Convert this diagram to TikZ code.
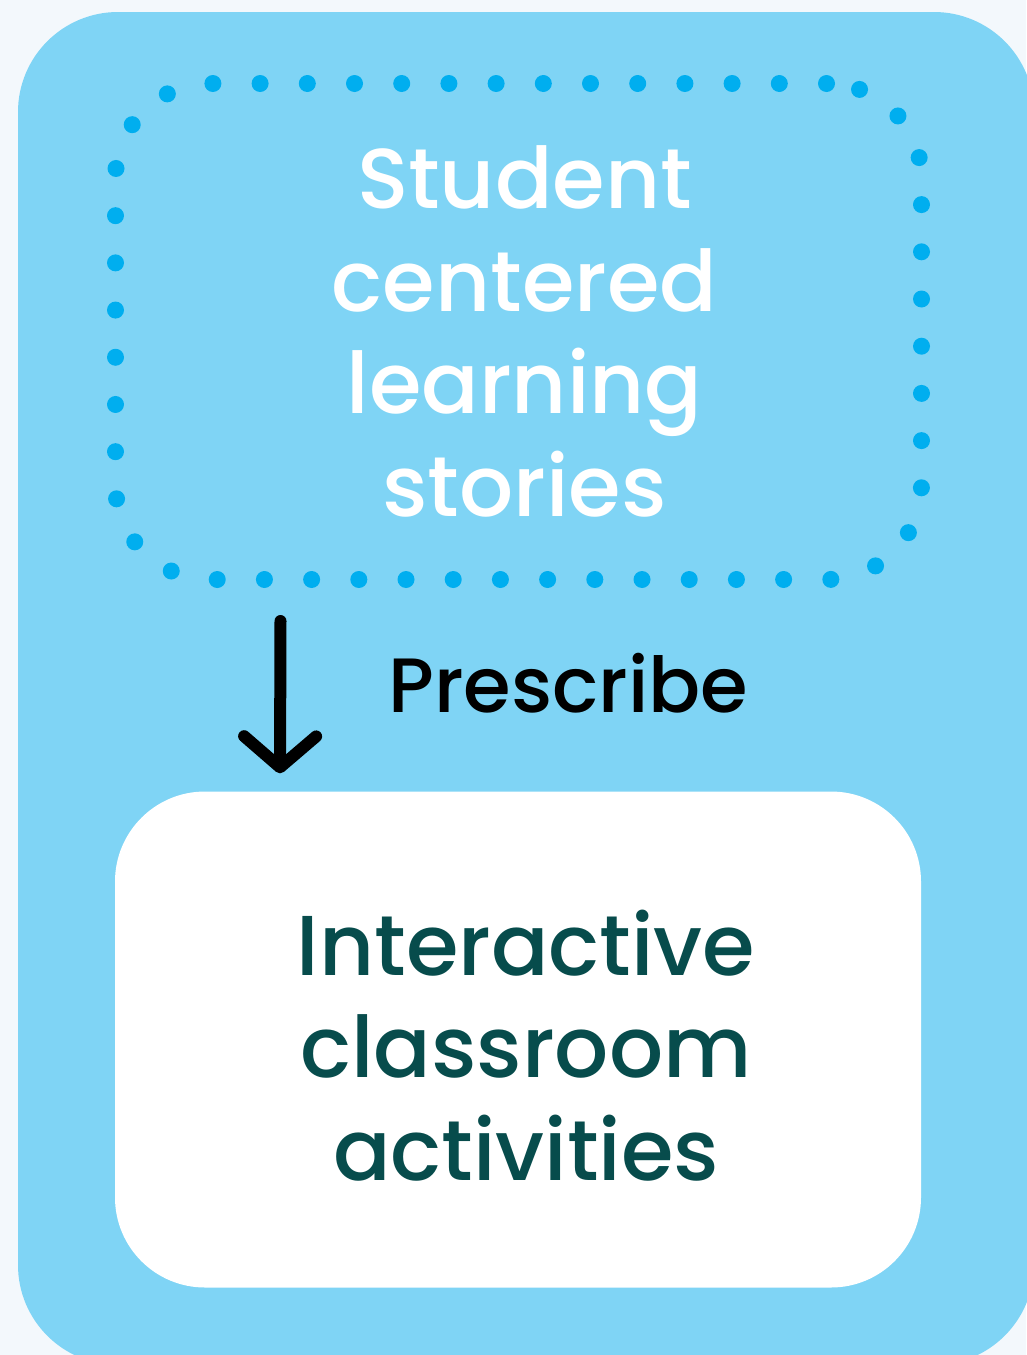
\documentclass[tikz,border=0pt]{standalone}
\usepackage{fontspec}
\setmainfont{Poppins}[UprightFont={* Medium}]
\usetikzlibrary{arrows.meta}
\definecolor{paper}{RGB}{243,248,252}
\definecolor{sky}{RGB}{127,212,245}
\definecolor{dotblue}{RGB}{0,174,239}
\definecolor{deepteal}{RGB}{7,76,76}
\tikzset{
  box/.style={rectangle,minimum width=806pt,minimum height=496pt,inner sep=0pt},
  boxtext/.style={align=center,inner sep=0pt,font=\fontsize{85}{102.5}\selectfont},
  dotbox/.style={box,draw=dotblue,line width=17pt,line cap=round,dash pattern=on 0pt off 47.2pt,
    rounded corners=95pt},
  whitebox/.style={box,fill=white,rounded corners=90pt},
  arrowline/.style={line width=12pt,line cap=round,line join=round,
    -{Straight Barb[length=31pt,width=72pt,round]}}
}
\begin{document}
\begin{tikzpicture}[x=1pt,y=-1pt]
\useasboundingbox[fill=paper] (0,0) rectangle (1026,1355);
\fill[sky,rounded corners=100pt] (18,12) rectangle (1034,1365);
\node[dotbox] (story) at (518.5,331.5) {};
\node[boxtext,text=white] (storytext) at ([shift={(6,0)}]story.center) {Student\\centered\\learning\\stories};
\node[whitebox] (activity) at (518,1039.5) {};
\node[boxtext,text=deepteal] (activitytext) at ([shift={(8,6)}]activity.center) {Interactive\\classroom\\activities};
\draw[arrowline] ([shift={(-238,33)}]story.south) -- ([shift={(-238,-18)}]activity.north);
\node[anchor=base west,font=\fontsize{77}{90}\selectfont] (verb) at (385,712) {Prescribe};
\end{tikzpicture}
\end{document}
